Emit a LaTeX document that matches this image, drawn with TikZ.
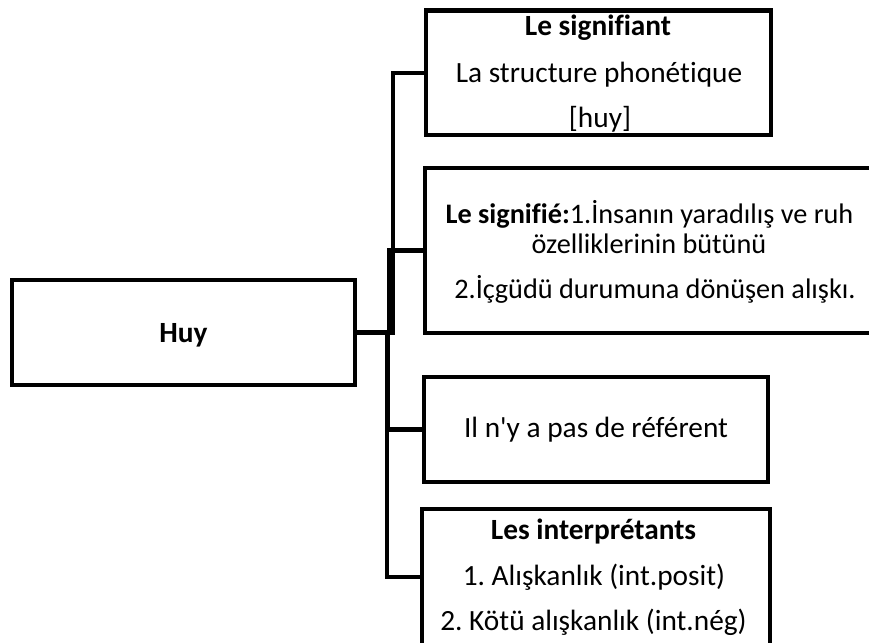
\documentclass[tikz,border=0pt]{standalone}
\usepackage{fontspec}
\setmainfont{Carlito}[Ligatures=CommonOff]
\usetikzlibrary{fit}
\frenchspacing
\begin{document}
\begin{tikzpicture}[x=0.75pt,y=-0.75pt,
  box/.style={draw=black,line width=3.3pt,inner sep=0pt,rectangle},
  conn/.style={draw=black,line width=3.3pt},
  txt/.style={anchor=base,inner sep=0pt,font=\fontsize{22}{26}\selectfont\frenchspacing},
  txts/.style={anchor=base,inner sep=0pt,font=\fontsize{21.2}{25}\selectfont\frenchspacing}]
\useasboundingbox (0,0) rectangle (869,643);
\fill[white] (0,0) rectangle (869,643);
\clip (0,0) rectangle (869,643);
% boxes
\node[box,fit={(12,280) (355,385)}] (huy) {};
\node[box,fit={(426,10.5) (771,135)}] (b1) {};
\node[box,fit={(425,168) (874,333)}] (b2) {};
\node[box,fit={(424,377) (768,482)}] (b3) {};
\node[box,fit={(422,509) (770,645)}] (b4) {};
% texts
\node[txt] (thuy) at (183.5,342) {\textbf{Huy}};
\node[txt] (t1a) at (598,35) {\textbf{Le signifiant}};
\node[txt] (t1b) at (599,82) {La structure phonétique};
\node[txt] (t1c) at (600,127) {[huy]};
\node[txts] (t2a) at (649.5,223) {\textbf{Le signifié:}1.İnsanın yaradılış ve ruh};
\node[txts] (t2b) at (649,253) {özelliklerinin bütünü};
\node[txts] (t2c) at (655,298) {2.İçgüdü durumuna dönüşen alışkı.};
\node[txt] (t3a) at (596,437) {Il n\textquotesingle y a pas de référent};
\node[txt] (t4a) at (593.5,539) {\textbf{Les interprétants}};
\node[txt] (t4b) at (594,585) {1. Alışkanlık (int.posit)};
\node[txt] (t4c) at (593.5,630) {2. Kötü alışkanlık (int.nég)};
% connectors
\coordinate (j1) at (393,0);
\coordinate (j2) at (389,0);
\coordinate (j3) at (388,0);
\coordinate (j4) at (387,0);
\draw[conn] (huy.east) -- (huy.east -| j1) |- (b1.west);
\draw[conn] (huy.east) -- (huy.east -| j2) |- (b2.west);
\draw[conn] (huy.east) -- (huy.east -| j3) |- (b3.west);
\draw[conn] (huy.east) -- (huy.east -| j4) |- (b4.west);
\end{tikzpicture}
\end{document}
